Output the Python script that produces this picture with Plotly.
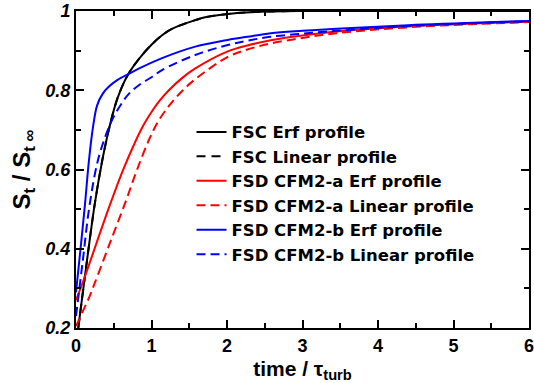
import plotly.graph_objects as go

# ---- data ----
fsc_erf_x = [0.03, 0.118, 0.25, 0.35, 0.444, 0.55, 0.684, 0.837, 1.0, 1.14, 1.27, 1.58, 1.71, 2.14, 2.6, 3.0, 4.0, 5.0, 6.0]
fsc_erf_y = [0.2, 0.33, 0.515, 0.625, 0.708, 0.78, 0.838, 0.88, 0.915, 0.939, 0.955, 0.977, 0.984, 0.995, 0.999, 1.0, 1.0, 1.0, 1.0]

fsc_lin_x = [0.03, 0.118, 0.25, 0.35, 0.444, 0.55, 0.684, 0.837, 1.0, 1.14, 1.27, 1.58, 1.71, 2.14, 2.6, 3.0, 4.0, 5.0, 6.0]
fsc_lin_y = [0.2, 0.33, 0.515, 0.625, 0.708, 0.78, 0.838, 0.88, 0.915, 0.939, 0.955, 0.977, 0.984, 0.995, 0.999, 1.0, 1.0, 1.0, 1.0]

cfm2a_erf_x = [0.0, 0.118, 0.3, 0.467, 0.62, 0.79, 0.9, 1.0, 1.1, 1.23, 1.4, 1.58, 2.01, 2.27, 2.58, 3.0, 3.45, 4.5, 6.0]
cfm2a_erf_y = [0.27, 0.33, 0.43, 0.52, 0.597, 0.672, 0.714, 0.745, 0.772, 0.8, 0.83, 0.855, 0.898, 0.913, 0.926, 0.938, 0.948, 0.962, 0.973]

cfm2a_lin_x = [0.0, 0.18, 0.248, 0.45, 0.65, 0.8, 0.967, 1.1, 1.25, 1.4, 1.58, 2.01, 2.27, 2.58, 3.0, 3.45, 4.5, 6.0]
cfm2a_lin_y = [0.205, 0.28, 0.313, 0.415, 0.515, 0.595, 0.675, 0.725, 0.765, 0.797, 0.828, 0.884, 0.903, 0.918, 0.932, 0.944, 0.96, 0.972]

cfm2b_erf_x = [0.0, 0.06, 0.118, 0.17, 0.226, 0.28, 0.357, 0.43, 0.55, 0.706, 0.837, 1.14, 1.58, 2.01, 2.27, 2.58, 3.0, 3.45, 4.5, 6.0]
cfm2b_erf_y = [0.29, 0.40, 0.51, 0.62, 0.708, 0.762, 0.792, 0.808, 0.826, 0.842, 0.855, 0.881, 0.91, 0.927, 0.935, 0.944, 0.95, 0.955, 0.965, 0.975]

cfm2b_lin_x = [0.0, 0.09, 0.18, 0.3, 0.466, 0.62, 0.706, 0.85, 1.01, 1.14, 1.58, 2.01, 2.27, 2.58, 3.0, 3.45, 4.5, 6.0]
cfm2b_lin_y = [0.23, 0.37, 0.51, 0.63, 0.72, 0.771, 0.792, 0.815, 0.834, 0.851, 0.889, 0.914, 0.925, 0.935, 0.943, 0.95, 0.963, 0.974]

names = ["FSC Erf profile", "FSC Linear profile", "FSD CFM2-a Erf profile",
         "FSD CFM2-a Linear profile", "FSD CFM2-b Erf profile", "FSD CFM2-b Linear profile"]

x_tickvals = [0, 1, 2, 3, 4, 5, 6]
x_ticktext = ["0", "1", "2", "3", "4", "5", "6"]
y_tickvals = [0.2, 0.4, 0.6, 0.8, 1.0]
y_ticktext = ["0.2", "0.4", "0.6", "0.8", "1"]

series = [
    (fsc_erf_x, fsc_erf_y, "black", "solid"),
    (fsc_lin_x, fsc_lin_y, "black", "9px,6px"),
    (cfm2a_erf_x, cfm2a_erf_y, "#ff0000", "solid"),
    (cfm2a_lin_x, cfm2a_lin_y, "#ff0000", "9px,5px"),
    (cfm2b_erf_x, cfm2b_erf_y, "#0000ff", "solid"),
    (cfm2b_lin_x, cfm2b_lin_y, "#0000ff", "9px,5px"),
]

FONT = "Liberation Sans, Arial, Helvetica, sans-serif"
LEGFONT = "DejaVu Sans, Liberation Sans, Arial, sans-serif"

fig = go.Figure()
for (xs, ys, col, dash), nm in zip(series, names):
    fig.add_trace(go.Scatter(
        x=xs, y=ys, mode="lines", name=nm,
        line=dict(color=col, width=2, dash=dash, shape="spline", smoothing=1.0),
    ))

fig.update_layout(
    width=534, height=383,
    margin=dict(l=76, r=0, t=11, b=55),
    plot_bgcolor="white", paper_bgcolor="white",
    font=dict(family=FONT, color="black"),
    showlegend=True,
    legend=dict(
        x=0.255, y=0.673, xanchor="left", yanchor="top",
        bgcolor="rgba(0,0,0,0)", borderwidth=0,
        font=dict(family=LEGFONT, size=16.5, color="black", weight="bold"),
        itemwidth=30, tracegroupgap=0,
    ),
)

fig.update_xaxes(
    range=[0, 6], tickvals=x_tickvals, ticktext=x_ticktext,
    ticks="inside", ticklen=8, tickwidth=1.5, tickcolor="black",
    minor=dict(dtick=0.5, ticks="inside", ticklen=5, tickwidth=1.5, tickcolor="black"),
    showline=True, linecolor="black", linewidth=2, mirror="ticks",
    showgrid=False, zeroline=False, ticklabeloverflow="allow",
    tickfont=dict(family=FONT, size=18, color="black", weight="bold"),
    title=dict(text="time / τ<sub>turb</sub>", standoff=8,
               font=dict(family=FONT, size=21, color="black", weight="bold")),
)
fig.update_yaxes(
    range=[0.2, 1.0], tickvals=y_tickvals, ticktext=y_ticktext,
    ticks="inside", ticklen=8, tickwidth=1.5, tickcolor="black",
    minor=dict(dtick=0.1, ticks="inside", ticklen=5, tickwidth=1.5, tickcolor="black"),
    showline=True, linecolor="black", linewidth=2, mirror="ticks",
    showgrid=False, zeroline=False, ticklabeloverflow="allow",
    tickfont=dict(family=FONT, size=18, color="black", weight="bold", style="italic"),
    title=dict(text="S<sub>t</sub> / S<sub>t ∞</sub>", standoff=8,
               font=dict(family=FONT, size=24, color="black", weight="bold")),
)

fig.write_html("out.html")
